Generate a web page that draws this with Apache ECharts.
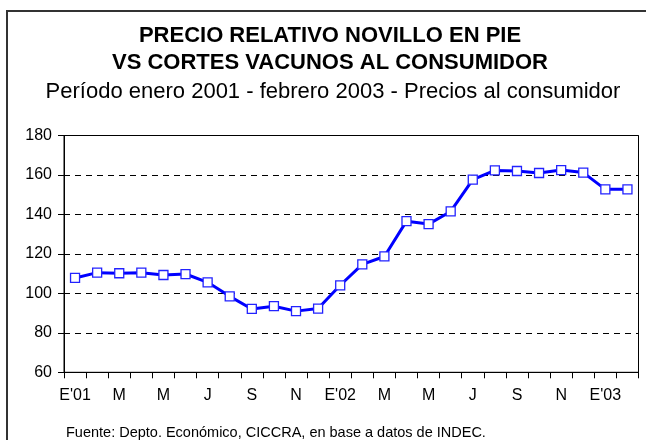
<!DOCTYPE html>
<html>
<head>
<meta charset="utf-8">
<script src="https://cdn.jsdelivr.net/npm/echarts@6/dist/echarts.min.js"></script>
<style>
html,body{margin:0;padding:0;background:#fff;}
#chart{width:646px;height:440px;}
</style>
</head>
<body>
<div id="chart"></div>
<script>
// Categories (Jan 2001 - Feb 2003)
var months = ["E'01","F","M","A","M","J","J","A","S","O","N","D",
              "E'02","F","M","A","M","J","J","A","S","O","N","D",
              "E'03","F"];
// Relative price index values
var values = [107.8,110.5,110.2,110.5,109.3,109.8,105.6,98.5,92.1,93.5,91.0,92.3,
              104.1,114.7,118.7,136.6,135.1,141.5,157.6,162.3,162.0,161.0,162.5,161.2,
              152.7,152.7];
var yTicks = {min:60, max:180, step:20};
var titleLine1 = "PRECIO RELATIVO NOVILLO EN PIE";
var titleLine2 = "VS CORTES VACUNOS AL CONSUMIDOR";
var subtitle = "Período enero 2001 - febrero 2003 - Precios al consumidor";
var source = "Fuente: Depto. Económico, CICCRA, en base a datos de INDEC.";

var FONT = "Arial, 'Liberation Sans', sans-serif";
var chart = echarts.init(document.getElementById('chart'), null, {renderer:'canvas'});
chart.setOption({
  animation:false,
  backgroundColor:'#fff',
  graphic:[
    {type:'rect', shape:{x:7, y:11, width:700, height:500}, style:{fill:'none', stroke:'#333', lineWidth:2}, silent:true},
    {type:'text', x:330, y:36, style:{text:titleLine1, font:'bold 22px '+FONT, fill:'#000', textAlign:'center', textVerticalAlign:'middle'}},
    {type:'text', x:330, y:62.5, style:{text:titleLine2, font:'bold 22px '+FONT, fill:'#000', textAlign:'center', textVerticalAlign:'middle'}},
    {type:'text', x:333, y:91.5, style:{text:subtitle, font:'22px '+FONT, fill:'#000', textAlign:'center', textVerticalAlign:'middle'}},
    {type:'text', x:66, y:432.5, style:{text:source, font:'14.5px '+FONT, fill:'#000', textAlign:'left', textVerticalAlign:'middle'}}
  ],
  grid:{left:64, right:7.5, top:135.5, bottom:67.7, show:true, borderColor:'#000', borderWidth:1, backgroundColor:'transparent'},
  xAxis:{
    type:'category',
    data:months,
    boundaryGap:true,
    axisLine:{lineStyle:{color:'#000', width:1}},
    axisTick:{show:true, interval:0, length:6, lineStyle:{color:'#000'}},
    axisLabel:{interval:1, margin:15, color:'#000', fontSize:16, fontFamily:FONT},
    splitLine:{show:false}
  },
  yAxis:{
    type:'value',
    min:yTicks.min, max:yTicks.max, interval:yTicks.step,
    axisLine:{show:true, lineStyle:{color:'#000', width:1}},
    axisTick:{show:true, length:6, lineStyle:{color:'#000'}},
    axisLabel:{margin:12, color:'#000', fontSize:16, fontFamily:FONT},
    splitLine:{show:true, lineStyle:{color:'#000', width:1, type:[6,5]}}
  },
  series:[{
    type:'line',
    data:values,
    symbol:'rect',
    symbolSize:9,
    lineStyle:{color:'#0000FF', width:3},
    itemStyle:{color:'#fff', borderColor:'#2222FF', borderWidth:1.3},
    z:3
  }]
});
</script>
</body>
</html>
